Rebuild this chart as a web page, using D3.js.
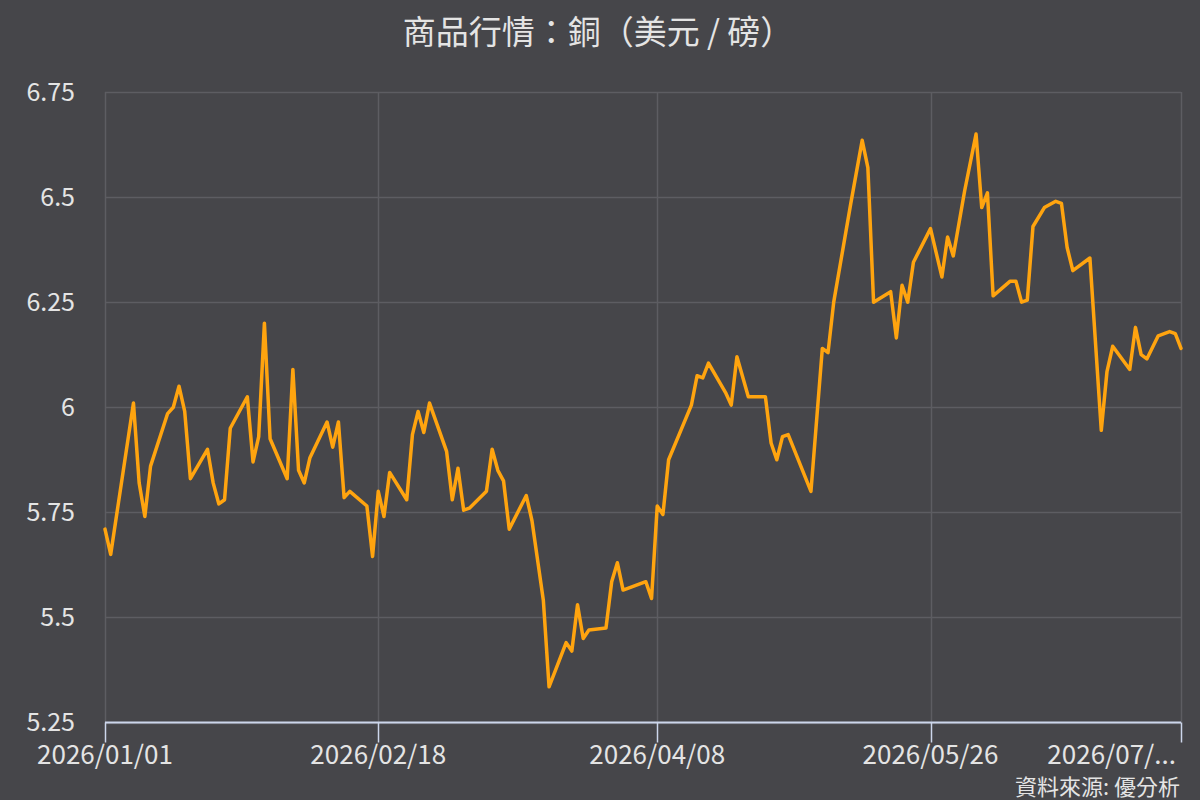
<!DOCTYPE html>
<html>
<head>
<meta charset="utf-8">
<script src="https://cdn.jsdelivr.net/npm/d3@7"></script>
<style>
  html, body { margin: 0; padding: 0; background: #46464a; }
  svg { display: block; }
  text { font-family: "Noto Sans CJK TC", "Noto Sans", sans-serif; }
</style>
</head>
<body>
<svg id="chart" width="1200" height="800"></svg>
<script>
const title = "商品行情：銅（美元 / 磅）";
const sourceNote = "資料來源: 優分析";

const dates = [
  "2026-01-01","2026-01-02","2026-01-06","2026-01-07","2026-01-08","2026-01-09",
  "2026-01-12","2026-01-13","2026-01-14","2026-01-15","2026-01-16",
  "2026-01-19","2026-01-20","2026-01-21","2026-01-22","2026-01-23",
  "2026-01-26","2026-01-27","2026-01-28","2026-01-29","2026-01-30",
  "2026-02-02","2026-02-03","2026-02-04","2026-02-05","2026-02-06",
  "2026-02-09","2026-02-10","2026-02-11","2026-02-12","2026-02-13",
  "2026-02-16","2026-02-17","2026-02-18","2026-02-19","2026-02-20",
  "2026-02-23","2026-02-24","2026-02-25","2026-02-26","2026-02-27",
  "2026-03-02","2026-03-03","2026-03-04","2026-03-05","2026-03-06",
  "2026-03-09","2026-03-10","2026-03-11","2026-03-12","2026-03-13",
  "2026-03-16","2026-03-17","2026-03-19","2026-03-20",
  "2026-03-23","2026-03-24","2026-03-25","2026-03-26","2026-03-27",
  "2026-03-30","2026-03-31","2026-04-01","2026-04-02",
  "2026-04-06","2026-04-07","2026-04-08","2026-04-09","2026-04-10",
  "2026-04-14","2026-04-15","2026-04-16","2026-04-17",
  "2026-04-20","2026-04-21","2026-04-22","2026-04-24",
  "2026-04-27","2026-04-28","2026-04-29","2026-04-30","2026-05-01",
  "2026-05-05","2026-05-07","2026-05-08","2026-05-09",
  "2026-05-12","2026-05-14","2026-05-15","2026-05-16",
  "2026-05-19","2026-05-20","2026-05-21","2026-05-22","2026-05-23",
  "2026-05-26","2026-05-28","2026-05-29","2026-05-30",
  "2026-06-01","2026-06-03","2026-06-04","2026-06-05","2026-06-06",
  "2026-06-09","2026-06-10","2026-06-11","2026-06-12","2026-06-13",
  "2026-06-15","2026-06-17","2026-06-18","2026-06-19","2026-06-20",
  "2026-06-23","2026-06-25","2026-06-26","2026-06-27",
  "2026-06-30","2026-07-01","2026-07-02","2026-07-03",
  "2026-07-05","2026-07-07","2026-07-08","2026-07-09"
];

const prices = [
  5.71,5.65,6.01,5.82,5.74,5.86,
  5.985,6.00,6.05,5.99,5.83,
  5.90,5.82,5.77,5.78,5.95,
  6.025,5.87,5.93,6.20,5.925,
  5.83,6.09,5.85,5.82,5.88,
  5.965,5.905,5.965,5.785,5.80,
  5.765,5.645,5.80,5.74,5.845,
  5.78,5.935,5.99,5.94,6.01,
  5.895,5.78,5.855,5.755,5.76,
  5.80,5.90,5.85,5.825,5.71,
  5.79,5.73,5.54,5.335,
  5.44,5.42,5.53,5.45,5.47,
  5.475,5.585,5.63,5.565,
  5.585,5.545,5.765,5.745,5.875,
  6.005,6.075,6.07,6.105,
  6.035,6.005,6.12,6.025,
  6.025,5.915,5.875,5.93,5.935,
  5.80,6.14,6.13,6.25,
  6.485,6.635,6.57,6.25,
  6.275,6.165,6.29,6.25,6.345,
  6.425,6.31,6.405,6.36,
  6.515,6.65,6.475,6.51,6.265,
  6.30,6.30,6.25,6.255,6.43,
  6.475,6.49,6.485,6.38,6.325,
  6.355,5.945,6.085,6.145,
  6.09,6.19,6.125,6.115,
  6.17,6.18,6.175,6.14
];

const yTicks = [5.25, 5.5, 5.75, 6, 6.25, 6.5, 6.75];
const yTickLabels = ["5.25", "5.5", "5.75", "6", "6.25", "6.5", "6.75"];
const xTickDates = ["2026-01-01", "2026-02-18", "2026-04-08", "2026-05-26", "2026-07-09"];
const xTickLabels = ["2026/01/01", "2026/02/18", "2026/04/08", "2026/05/26", "2026/07/..."];

const parse = d3.utcParse("%Y-%m-%d");
const data = dates.map((d, i) => ({ date: parse(d), value: prices[i] }));

const svg = d3.select("#chart");
const W = 1200, H = 800;
const plotLeft = 105, plotRight = 1181, plotTop = 92, plotBottom = 722.5;

svg.append("rect").attr("width", W).attr("height", H).attr("fill", "#46464a");

const x = d3.scaleUtc()
  .domain([parse(xTickDates[0]), parse(xTickDates[xTickDates.length - 1])])
  .range([plotLeft, plotRight]);
const y = d3.scaleLinear().domain([5.25, 6.75]).range([plotBottom, plotTop]);

const gridColor = "#5d5d62";
const textColor = "#e4e4e4";

// horizontal grid
svg.append("g").selectAll("line").data(yTicks).join("line")
  .attr("x1", plotLeft).attr("x2", plotRight)
  .attr("y1", d => Math.round(y(d)) + 0.5).attr("y2", d => Math.round(y(d)) + 0.5)
  .attr("stroke", gridColor).attr("stroke-width", 1.5);

// vertical grid
svg.append("g").selectAll("line").data(xTickDates).join("line")
  .attr("x1", d => Math.round(x(parse(d))) + 0.5).attr("x2", d => Math.round(x(parse(d))) + 0.5)
  .attr("y1", plotTop).attr("y2", plotBottom)
  .attr("stroke", gridColor).attr("stroke-width", 1.5);

// y labels
svg.append("g").selectAll("text").data(yTicks).join("text")
  .attr("x", 75).attr("y", d => y(d))
  .attr("dy", "0.35em")
  .attr("text-anchor", "end")
  .attr("fill", textColor)
  .attr("font-size", 25)
  .text((d, i) => yTickLabels[i]);

// x axis line and ticks
const axisColor = "#ccd6eb";
svg.append("line")
  .attr("x1", plotLeft).attr("x2", plotRight)
  .attr("y1", plotBottom).attr("y2", plotBottom)
  .attr("stroke", axisColor).attr("stroke-width", 2);
svg.append("g").selectAll("line").data(xTickDates).join("line")
  .attr("x1", d => Math.round(x(parse(d))) + 0.5).attr("x2", d => Math.round(x(parse(d))) + 0.5)
  .attr("y1", plotBottom).attr("y2", plotBottom + 20)
  .attr("stroke", axisColor).attr("stroke-width", 1.5);

svg.append("g").selectAll("text").data(xTickDates).join("text")
  .attr("x", (d, i) => i === xTickDates.length - 1 ? x(parse(d)) - 5 : x(parse(d)))
  .attr("y", 764)
  .attr("text-anchor", (d, i) => i === xTickDates.length - 1 ? "end" : "middle")
  .attr("fill", textColor)
  .attr("font-size", 26)
  .text((d, i) => xTickLabels[i]);

// line
const line = d3.line().x(d => x(d.date)).y(d => y(d.value));
svg.append("path").datum(data)
  .attr("d", line)
  .attr("fill", "none")
  .attr("stroke", "#ffa40f")
  .attr("stroke-width", 3.5)
  .attr("stroke-linejoin", "round")
  .attr("stroke-linecap", "round");

// title
svg.append("text")
  .attr("x", 598).attr("y", 44)
  .attr("text-anchor", "middle")
  .attr("fill", textColor)
  .attr("font-size", 33)
  .text(title);

// source
svg.append("text")
  .attr("x", 1180).attr("y", 795)
  .attr("text-anchor", "end")
  .attr("fill", textColor)
  .attr("font-size", 22)
  .text(sourceNote);
</script>
</body>
</html>
